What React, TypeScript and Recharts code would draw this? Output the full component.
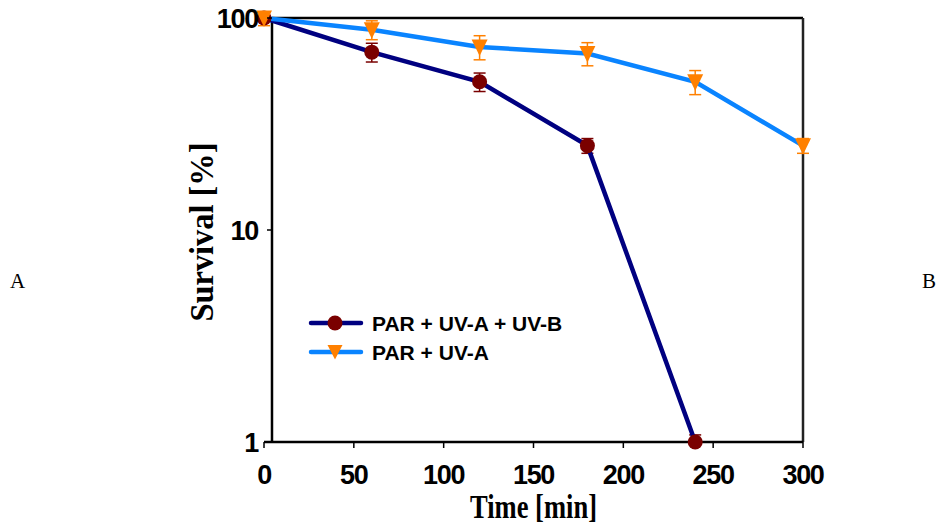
import React from 'react';
import { LineChart, Line, XAxis, YAxis, ErrorBar, ReferenceLine, Label } from 'recharts';

const TIME = [0, 60, 120, 180, 240, 300];
const SURV_UVB: (number | null)[] = [100, 69, 50, 25, 1, null];
const ERR_UVB: ([number, number] | null)[] = [[0, 0], [7, 7], [5, 5], [2, 2], [0, 0.08], null];
const SURV_UVA = [100, 88, 73, 68, 50, 25];
const ERR_UVA: [number, number][] = [[8, 0], [9, 9], [9.5, 9.5], [8.5, 8.5], [6.5, 6.5], [2, 2]];
const X_TICKS = [0, 50, 100, 150, 200, 250, 300];
const Y_TICKS = [1, 10, 100];
const SERIES_NAMES = ['PAR + UV-A + UV-B', 'PAR + UV-A'];
const Y_FRAME_X = 4.45; // frame's left edge sits just right of time 0

const data = TIME.map((t, i) => ({
  t,
  uvb: SURV_UVB[i],
  uvbErr: ERR_UVB[i],
  uva: SURV_UVA[i],
  uvaErr: ERR_UVA[i],
}));

const NAVY = '#000080';
const MAROON = '#7a0000';
const SKY = '#0a84ff';
const ORANGE = '#ff8000';
const SANS = '"Liberation Sans", Arial, sans-serif';
const SERIF = '"Liberation Serif", "Times New Roman", serif';

const Circle = (p: any) => {
  if (p.cx == null || p.cy == null || p.value == null) return null;
  return <circle key={`c${p.index}`} cx={p.cx} cy={p.cy} r={7.5} fill={MAROON} />;
};
const Tri = (p: any) => {
  if (p.cx == null || p.cy == null) return null;
  const { cx, cy } = p;
  return (
    <polygon
      key={`t${p.index}`}
      points={`${cx - 8},${cy - 7.5} ${cx + 8},${cy - 7.5} ${cx},${cy + 9}`}
      fill={ORANGE}
    />
  );
};

const YTick = (p: any) => {
  const { x, y, payload } = p;
  return (
    <g>
      <line x1={x + 9} x2={x + 14} y1={y} y2={y} stroke="#000" strokeWidth={1.5} />
      <text
        x={x}
        y={y}
        dy="0.36em"
        textAnchor="end"
        fontFamily={SANS}
        fontWeight="bold"
        fontSize={27}
        letterSpacing={-1.3}
        fill="#000"
      >
        {payload.value}
      </text>
    </g>
  );
};

export default function App() {
  return (
    <div style={{ position: 'absolute', left: 0, top: 0, width: 940, height: 527, background: '#fff' }}>
      <LineChart
        width={940}
        height={527}
        data={data}
        margin={{ top: 18, right: 137, bottom: 5, left: 184 }}
      >
        <XAxis
          dataKey="t"
          type="number"
          domain={[0, 300]}
          ticks={X_TICKS}
          height={80}
          tickSize={6}
          tickMargin={17}
          axisLine={{ stroke: '#000', strokeWidth: 2.5 }}
          tickLine={{ stroke: '#000', strokeWidth: 1.5 }}
          tick={{ fontFamily: SANS, fontWeight: 'bold', fontSize: 27, fill: '#000', letterSpacing: -1.3 } as any}
          interval={0}
        >
          <Label
            content={(lp: any) => {
              const vb = lp.viewBox;
              return (
                <text
                  x={vb.x + vb.width / 2}
                  y={vb.y + 76}
                  textAnchor="middle"
                  fontFamily={SERIF}
                  fontWeight="bold"
                  fontSize={34}
                  textLength={127}
                  lengthAdjust="spacingAndGlyphs"
                  fill="#000"
                >
                  Time [min]
                </text>
              );
            }}
          />
        </XAxis>
        <YAxis
          scale="log"
          domain={[1, 100]}
          ticks={Y_TICKS}
          width={80}
          tickSize={6}
          tickMargin={0}
          axisLine={false}
          tickLine={false}
          tick={<YTick />}
          interval={0}
        >
          <Label
            content={(lp: any) => {
              const vb = lp.viewBox;
              const cx = vb.x + 29;
              const cy = vb.y + vb.height / 2 + 2;
              return (
                <text
                  x={cx}
                  y={cy}
                  transform={`rotate(-90 ${cx} ${cy})`}
                  textAnchor="middle"
                  fontFamily={SERIF}
                  fontWeight="bold"
                  fontSize={34}
                  textLength={179}
                  lengthAdjust="spacingAndGlyphs"
                  fill="#000"
                >
                  Survival [%]
                </text>
              );
            }}
          />
        </YAxis>
        <ReferenceLine x={Y_FRAME_X} stroke="#000" strokeWidth={2.5} ifOverflow="visible" />
        <ReferenceLine
          segment={[{ x: Y_FRAME_X, y: 100 }, { x: 300, y: 100 }]}
          stroke="#000"
          strokeWidth={2.5}
          ifOverflow="visible"
        />
        <ReferenceLine x={300} stroke="#222" strokeWidth={2.5} ifOverflow="visible" />
        <Line
          dataKey="uvb"
          name={SERIES_NAMES[0]}
          stroke={NAVY}
          strokeWidth={4.5}
          dot={Circle}
          activeDot={false}
          isAnimationActive={false}
        >
          <ErrorBar dataKey="uvbErr" direction="y" width={6} stroke={MAROON} strokeWidth={1.5} />
        </Line>
        <Line
          dataKey="uva"
          name={SERIES_NAMES[1]}
          stroke={SKY}
          strokeWidth={4.5}
          dot={Tri}
          activeDot={false}
          isAnimationActive={false}
        >
          <ErrorBar dataKey="uvaErr" direction="y" width={6} stroke={ORANGE} strokeWidth={1.5} />
        </Line>
      </LineChart>
      <svg
        width={940}
        height={527}
        style={{ position: 'absolute', left: 0, top: 0, pointerEvents: 'none' }}
      >
        <g>
          <line x1={311} x2={361} y1={323} y2={323} stroke={NAVY} strokeWidth={4.5} strokeLinecap="round" />
          <circle cx={335} cy={323} r={7.5} fill={MAROON} />
          <text x={372} y={330.5} fontFamily={SANS} fontWeight="bold" fontSize={21} fill="#000">
            {SERIES_NAMES[0]}
          </text>
          <line x1={311} x2={361} y1={352} y2={352} stroke={SKY} strokeWidth={4.5} strokeLinecap="round" />
          <polygon points={`${327.5},${345} ${342.5},${345} ${335},${359.5}`} fill={ORANGE} />
          <text x={372} y={359.5} fontFamily={SANS} fontWeight="bold" fontSize={21} fill="#000">
            {SERIES_NAMES[1]}
          </text>
        </g>
        <text x={10} y={288} fontFamily={SERIF} fontSize={21} fill="#000">A</text>
        <text x={922} y={288} fontFamily={SERIF} fontSize={21} fill="#000">B</text>
      </svg>
    </div>
  );
}
